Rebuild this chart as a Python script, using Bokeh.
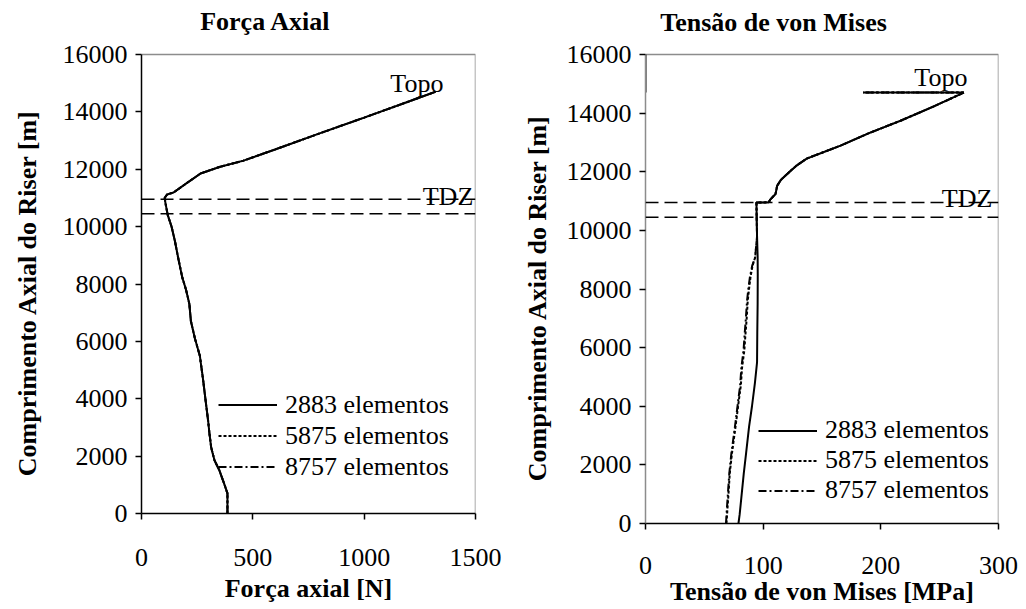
from bokeh.plotting import figure
from bokeh.layouts import row
from bokeh.models import Legend, LegendItem, Label, Span, FixedTicker
from bokeh.embed import file_html
from bokeh.resources import INLINE

SERIF = "Liberation Serif"
FS = "26px"
BORDER = "#8c8c8c"

# ---- axes / reference levels ----
depth_ticks = [0, 2000, 4000, 6000, 8000, 10000, 12000, 14000, 16000]
force_ticks = [0, 500, 1000, 1500]
stress_ticks = [0, 100, 200, 300]
tdz_depths = [10950, 10450]
series_names = ["2883 elementos", "5875 elementos", "8757 elementos"]
depth_label = "Comprimento Axial do Riser [m]"

# ---- axial force [N] along the riser [m] ----
force_depth = [0, 700, 1000, 1500, 1850, 2300, 2800, 3250, 3800, 4640, 5500,
               6100, 6700, 7300, 7800, 8230, 8900, 9500, 10000, 10400, 10800,
               11000, 11120, 11190, 11500, 11850, 12080, 12300, 12690, 13250,
               13800, 14360, 14700]
force_2883 = [386, 386, 373, 350, 328, 313, 305, 299, 290, 277, 262,
              240, 222, 215, 200, 183, 165, 150, 135, 118, 108,
              104, 115, 144, 200, 265, 350, 458, 600, 800,
              1000, 1200, 1320]
force_5875 = [386, 386, 373, 350, 328, 313, 305, 299, 290, 277, 262,
              240, 222, 215, 200, 183, 165, 150, 135, 118, 108,
              104, 115, 144, 200, 265, 350, 458, 600, 800,
              1000, 1200, 1320]
force_8757 = [386, 386, 373, 350, 328, 313, 305, 299, 290, 277, 262,
              240, 222, 215, 200, 183, 165, 150, 135, 118, 108,
              104, 115, 144, 200, 265, 350, 458, 600, 800,
              1000, 1200, 1320]

# ---- von Mises stress [MPa] along the riser [m] ----
upper_depth = [9800, 10400, 10950, 10950, 10960, 11050, 11240, 11520, 11720,
               11925, 12200, 12450, 12650, 12890, 13320, 13740, 14230, 14700,
               14700]
upper_stress = [94.8, 94.5, 94.3, 100.0, 104.8, 106.0, 110.5, 111.9, 115.0,
                120.4, 128.0, 137.0, 150.0, 165.7, 190.0, 216.7, 245.0, 270.5,
                185.0]

vm_depth_2883 = [0, 300, 900, 1700, 2400, 3300, 4000, 4800, 5500, 6500, 7500,
                 8500, 9100] + upper_depth
vm_2883 = [79.0, 80.0, 81.5, 83.5, 85.5, 88.0, 90.5, 93.0, 94.8, 95.0, 95.3,
           95.4, 95.3] + upper_stress

vm_depth_5875 = [0, 400, 1000, 1700, 2400, 3300, 4100, 4700, 5330, 5900, 6480,
                 7000, 7600, 8000, 8400, 8800, 9080] + upper_depth
vm_5875 = [68.8, 69.5, 70.5, 71.6, 73.5, 76.5, 79.0, 81.0, 82.1, 84.0, 85.0,
           86.0, 86.9, 88.0, 89.2, 91.0, 93.2] + upper_stress

vm_depth_8757 = [0, 400, 1000, 1700, 2400, 3300, 4100, 4700, 5330, 5900, 6480,
                 7000, 7600, 8000, 8400, 8800, 9080] + upper_depth
vm_8757 = [68.4, 69.0, 70.0, 71.2, 73.0, 76.0, 78.5, 80.4, 81.5, 83.3, 84.3,
           85.3, 86.3, 87.4, 88.7, 90.7, 93.2] + upper_stress

# segment of zero stress above the top node
vm_free_depth = [14700, 16000]
vm_free_stress = [0, 0]

DASHES = ["solid", "3 2", "8 3 2 3"]
DEPTH_TOP = depth_ticks[-1]
# the frame also covers the heading strip, so the rotated depth label is
# padded with no-break spaces to centre it on the 0..DEPTH_TOP axis
LABEL_PAD = "\u00a0" * 11


def make_fig(x_end, ticks, frame_w, frame_h, top_px, b_left, b_right,
             b_bottom, xlabel, x_tick_standoff, x_label_standoff,
             y_label_standoff, left_axis_color):
    y_end = DEPTH_TOP * frame_h / (frame_h - top_px)
    p = figure(frame_width=frame_w, frame_height=frame_h,
               x_range=(0, x_end), y_range=(0, y_end),
               output_backend="svg", toolbar_location=None,
               min_border_left=b_left, min_border_right=b_right,
               min_border_top=0, min_border_bottom=b_bottom,
               background_fill_color="white", border_fill_color="white")
    p.outline_line_color = None
    p.xgrid.visible = False
    p.ygrid.visible = False

    p.xaxis.ticker = FixedTicker(ticks=ticks)
    p.yaxis.ticker = FixedTicker(ticks=depth_ticks)
    p.yaxis.bounds = (0, DEPTH_TOP)
    for ax in (p.xaxis[0], p.yaxis[0]):
        ax.major_tick_in = 0
        ax.major_tick_out = 6
        ax.minor_tick_line_color = None
        ax.major_tick_line_color = "black"
        ax.major_tick_line_width = 1.5
        ax.major_label_text_font = SERIF
        ax.major_label_text_font_size = FS
        ax.major_label_text_color = "black"
        ax.axis_label_text_font = SERIF
        ax.axis_label_text_font_size = FS
        ax.axis_label_text_font_style = "bold"
        ax.axis_label_text_color = "black"
        ax.axis_line_width = 1.5
    p.xaxis.axis_line_color = "black"
    p.yaxis.axis_line_color = left_axis_color
    p.xaxis.axis_label = xlabel
    p.yaxis.axis_label = depth_label + LABEL_PAD
    p.xaxis.major_label_standoff = x_tick_standoff
    p.xaxis.axis_label_standoff = x_label_standoff
    p.yaxis.major_label_standoff = 8
    p.yaxis.axis_label_standoff = y_label_standoff

    # top and right border of the plotting box
    p.line([0, x_end, x_end], [DEPTH_TOP, DEPTH_TOP, 0], line_color=BORDER,
           line_width=1.5)

    for d in tdz_depths:
        p.add_layout(Span(location=d, dimension="width", line_color="black",
                          line_width=1.5, line_dash="13 6"))
    return p


def add_legend(p, renderers, loc, row_h):
    items = [LegendItem(label=n, renderers=[r])
             for n, r in zip(series_names, renderers)]
    leg = Legend(items=items, location=loc,
                 border_line_alpha=0, background_fill_alpha=0,
                 glyph_width=59, glyph_height=row_h, label_height=row_h,
                 label_standoff=8, spacing=0, padding=0, margin=0,
                 label_text_font=SERIF, label_text_font_size=FS,
                 label_text_color="black")
    p.add_layout(leg)


def add_text(p, x, y, text, align="right", bold=False, y_offset=0,
             baseline="alphabetic"):
    p.add_layout(Label(x=x, y=y, text=text, text_align=align,
                       text_baseline=baseline, y_offset=y_offset,
                       text_font=SERIF, text_font_size=FS,
                       text_font_style="bold" if bold else "normal",
                       text_color="black"))


# ---- left: axial force ----
p1 = make_fig(1500, force_ticks, 334, 513, 54, 141, 38, 96,
              "Força axial [N]", 29, 5, 18, "black")
r1 = [p1.line(vals, force_depth, line_color="black", line_width=2,
              line_dash=dash)
      for vals, dash in zip([force_2883, force_5875, force_8757], DASHES)]
add_legend(p1, r1, (77, 31), 31)
add_text(p1, 1356, 14980, "Topo")
add_text(p1, 1490, 11060, "TDZ")
add_text(p1, 557, DEPTH_TOP, "Força Axial", align="center", bold=True,
         y_offset=33, baseline="middle")

# ---- right: von Mises stress ----
p2 = make_fig(300, stress_ticks, 353, 523, 54, 132, 28, 86,
              "Tensão de von Mises [MPa]", 27, 0, 12, BORDER)
r2 = [p2.line(vals, depths, line_color="black", line_width=2, line_dash=dash)
      for vals, depths, dash in zip([vm_2883, vm_5875, vm_8757],
                                    [vm_depth_2883, vm_depth_5875,
                                     vm_depth_8757], DASHES)]
p2.line(vm_free_stress, vm_free_depth, line_color="black", line_width=2)
add_legend(p2, r2, (113, 18), 29)
add_text(p2, 273.6, 15200, "Topo")
add_text(p2, 294.8, 11090, "TDZ")
add_text(p2, 108.8, DEPTH_TOP, "Tensão de von Mises", align="center",
         bold=True, y_offset=32, baseline="middle")

layout = row(p1, p2, spacing=0)
open("out.html", "w").write(file_html(layout, INLINE))
